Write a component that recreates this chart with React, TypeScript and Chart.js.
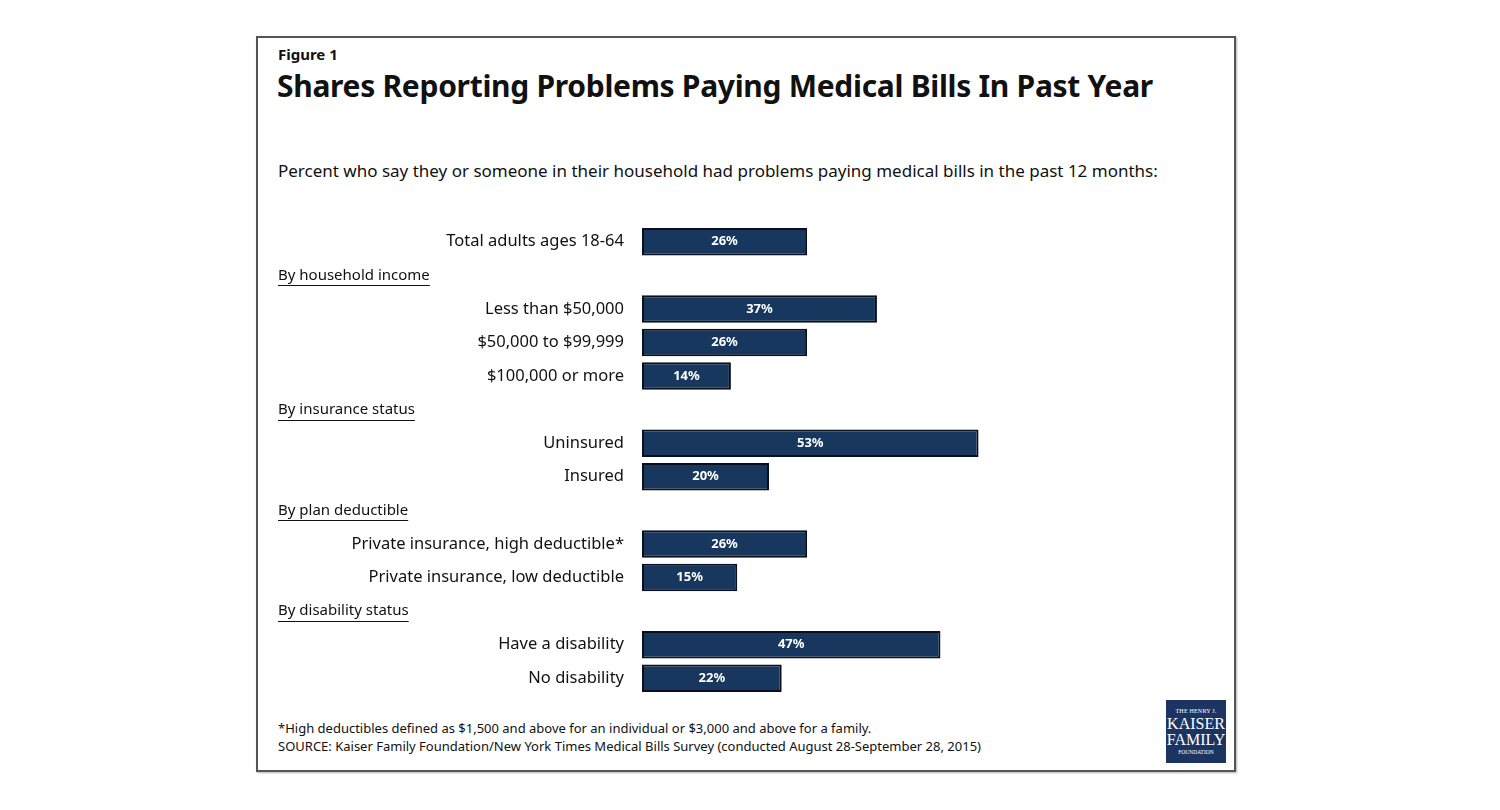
import React, { useEffect, useRef } from "react";
import { Chart, registerables } from "chart.js";

Chart.register(...registerables);

const categories = [
  "Total adults ages 18-64",
  "By household income",
  "Less than $50,000",
  "$50,000 to $99,999",
  "$100,000 or more",
  "By insurance status",
  "Uninsured",
  "Insured",
  "By plan deductible",
  "Private insurance, high deductible*",
  "Private insurance, low deductible",
  "By disability status",
  "Have a disability",
  "No disability",
];

const values: (number | null)[] = [26, null, 37, 26, 14, null, 53, 20, null, 26, 15, null, 47, 22];

const FONT = "'Noto Sans', 'Open Sans', sans-serif";

const headerPlugin = {
  id: "headers",
  afterDraw(chart: any) {
    const ctx = chart.ctx;
    const y = chart.scales.y;
    ctx.save();
    ctx.font = `15px ${FONT}`;
    ctx.fillStyle = "#111";
    ctx.strokeStyle = "#111";
    ctx.lineWidth = 1;
    ctx.textAlign = "left";
    ctx.textBaseline = "middle";
    categories.forEach((c, i) => {
      if (values[i] !== null) return;
      const py = y.getPixelForValue(i);
      ctx.fillText(c, 12, py);
      const w = ctx.measureText(c).width;
      ctx.beginPath();
      ctx.moveTo(12, Math.round(py + 10) + 0.5);
      ctx.lineTo(12 + w, Math.round(py + 10) + 0.5);
      ctx.stroke();
    });
    ctx.restore();
  },
};

const valuePlugin = {
  id: "vals",
  afterDatasetsDraw(chart: any) {
    const ctx = chart.ctx;
    const meta = chart.getDatasetMeta(0);
    ctx.save();
    ctx.font = `bold 13px ${FONT}`;
    ctx.fillStyle = "#ffffff";
    ctx.textAlign = "center";
    ctx.textBaseline = "middle";
    meta.data.forEach((bar: any, i: number) => {
      const v = values[i];
      if (v === null) return;
      ctx.fillText(`${v}%`, (bar.x + bar.base) / 2, bar.y);
    });
    ctx.restore();
  },
};

function BarChart() {
  const ref = useRef<HTMLCanvasElement>(null);
  useEffect(() => {
    if (!ref.current) return;
    const chart = new Chart(ref.current, {
      type: "bar",
      data: {
        labels: categories,
        datasets: [
          {
            data: values as any,
            backgroundColor: "#17375e",
            borderColor: "#0a0f1a",
            borderWidth: 2,
            borderSkipped: false,
            barPercentage: 0.82,
            categoryPercentage: 1,
          },
        ],
      },
      options: {
        indexAxis: "y",
        responsive: false,
        animation: false,
        layout: { padding: 0 },
        plugins: { legend: { display: false }, tooltip: { enabled: false } },
        scales: {
          x: { type: "linear", min: 0, max: 60, display: false },
          y: {
            grid: { display: false, drawTicks: false },
            border: { display: false },
            afterFit: (scale: any) => {
              scale.width = 376;
              scale.paddingTop = 0;
              scale.paddingBottom = 0;
            },
            ticks: {
              padding: 18,
              color: "#111",
              font: { family: FONT, size: 16.5 },
              callback: (_v: any, i: number) => (values[i] === null ? "" : categories[i]),
            },
          },
        },
      },
      plugins: [headerPlugin, valuePlugin],
    });
    return () => chart.destroy();
  }, []);
  return (
    <canvas
      ref={ref}
      width={757}
      height={470}
      style={{ position: "absolute", left: 266, top: 225, width: 757, height: 470 }}
    />
  );
}

export default function App() {
  return (
    <div style={{ position: "fixed", left: 0, top: 0, width: 1500, height: 810, background: "#fff", fontFamily: FONT, color: "#111" }}>
      <div
        style={{
          position: "absolute",
          left: 256,
          top: 36,
          width: 976,
          height: 732,
          border: "2px solid #555",
          boxShadow: "1px 1px 2px rgba(0,0,0,0.3)",
        }}
      />
      <div style={{ position: "absolute", left: 278, top: 44, fontSize: 15, fontWeight: 700 }}>Figure 1</div>
      <div style={{ position: "absolute", left: 277, top: 65, fontSize: 30, fontWeight: 700, whiteSpace: "nowrap", letterSpacing: -0.3 }}>
        Shares Reporting Problems Paying Medical Bills In Past Year
      </div>
      <div style={{ position: "absolute", left: 278, top: 159, fontSize: 17, whiteSpace: "nowrap" }}>
        Percent who say they or someone in their household had problems paying medical bills in the past 12 months:
      </div>
      <BarChart />
      <div style={{ position: "absolute", left: 278, top: 719, fontSize: 13, whiteSpace: "nowrap" }}>
        *High deductibles defined as $1,500 and above for an individual or $3,000 and above for a family.
      </div>
      <div style={{ position: "absolute", left: 278, top: 737, fontSize: 13, whiteSpace: "nowrap" }}>
        SOURCE: Kaiser Family Foundation/New York Times Medical Bills Survey (conducted August 28-September 28, 2015)
      </div>
      <div
        style={{
          position: "absolute",
          left: 1166,
          top: 700,
          width: 60,
          height: 63,
          background: "#1c3461",
          color: "#fff",
          fontFamily: "'Liberation Serif', 'DejaVu Serif', serif",
          textAlign: "center",
          lineHeight: 1,
          display: "flex",
          flexDirection: "column",
          justifyContent: "center",
          alignItems: "center",
        }}
      >
        <div style={{ fontSize: 6, letterSpacing: 0.2 }}>THE HENRY J.</div>
        <div style={{ fontSize: 16, marginTop: 2 }}>KAISER</div>
        <div style={{ fontSize: 16 }}>FAMILY</div>
        <div style={{ fontSize: 5.5, marginTop: 2 }}>FOUNDATION</div>
      </div>
    </div>
  );
}
